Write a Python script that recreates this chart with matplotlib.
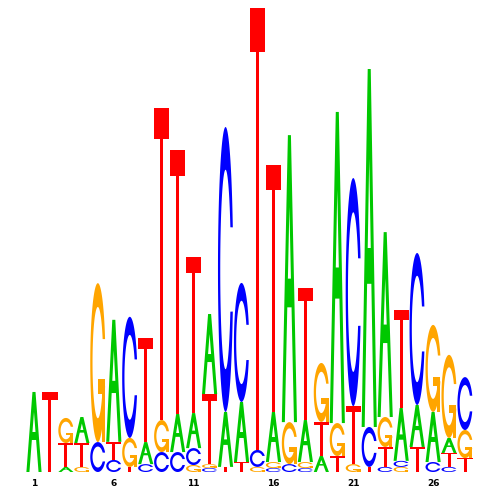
import numpy as np
import matplotlib
matplotlib.use("Agg")
import matplotlib.pyplot as plt
from matplotlib.patches import Polygon

# ---- data (information content in bits, per position) ----
positions = list(range(1, 29))
A = [0.345, 0.000, 0.022, 0.112, 0.000, 0.526, 0.000, 0.095, 0.000, 0.164,
     0.151, 0.345, 0.237, 0.259, 0.000, 0.216, 1.237, 0.181, 0.069, 1.341,
     0.000, 1.543, 0.797, 0.228, 0.181, 0.216, 0.065, 0.000]
C = [0.000, 0.000, 0.000, 0.000, 0.129, 0.052, 0.522, 0.034, 0.086, 0.086,
     0.073, 0.017, 1.228, 0.513, 0.073, 0.017, 0.034, 0.017, 0.000, 0.000,
     0.983, 0.172, 0.022, 0.026, 0.655, 0.043, 0.022, 0.228]
G = [0.000, 0.000, 0.108, 0.022, 0.685, 0.000, 0.125, 0.000, 0.138, 0.000,
     0.030, 0.017, 0.000, 0.000, 0.022, 0.026, 0.181, 0.026, 0.254, 0.142,
     0.034, 0.000, 0.129, 0.022, 0.000, 0.375, 0.358, 0.121]
T = [0.000, 0.345, 0.103, 0.103, 0.000, 0.078, 0.022, 0.448, 1.345, 1.138,
     0.672, 0.302, 0.022, 0.043, 1.905, 1.065, 0.000, 0.569, 0.147, 0.069,
     0.250, 0.022, 0.086, 0.422, 0.108, 0.000, 0.060, 0.060]
tick_positions = [1, 6, 11, 16, 21, 26]

colors = {"A": "#00C800", "C": "#0000FF", "G": "#FFA500", "T": "#FF0000"}

# ---- letter shapes in a unit box ----
def shape_A():
    outer = [(0, 0), (0.2, 0), (0.36, 0.4), (0.64, 0.4), (0.8, 0), (1, 0),
             (0.6, 1), (0.4, 1)]
    hole = [(0.4, 0.5), (0.5, 0.75), (0.6, 0.5)]
    return [outer], [hole]

def c_ring():
    phi_o = np.linspace(0.3, 2 * np.pi - 0.3, 120)
    phi_i = np.linspace(2 * np.pi - 0.437, 0.437, 120)
    xo = 0.5 + 0.5 * np.cos(phi_o)
    yo = 0.5 + 0.5 * np.sin(phi_o)
    xi = 0.5 + 0.35 * np.cos(phi_i)
    yi = 0.5 + 0.35 * np.sin(phi_i)
    return list(zip(np.r_[xo, xi], np.r_[yo, yi]))

def shape_C():
    return [c_ring()], []

def shape_G():
    bar = [(0.5, 0.3), (0.778, 0.3), (0.778, 0.0), (0.978, 0.0),
           (0.978, 0.4), (0.5, 0.4)]
    return [c_ring(), bar], []

def shape_T():
    return [[(0, 1), (0, 0.9), (0.4, 0.9), (0.4, 0), (0.6, 0), (0.6, 0.9),
             (1, 0.9), (1, 1)]], []

shapes = {"A": shape_A(), "C": shape_C(), "G": shape_G(), "T": shape_T()}

fig = plt.figure(figsize=(5, 5), dpi=100)
ax = fig.add_axes([0.052, 0.056, 0.894, 0.928])
ax.set_xlim(0.5, 28.5)
ax.set_ylim(0, 2)

width = 0.95

def draw_letter(letter, xc, y0, h):
    polys, holes = shapes[letter]
    x0 = xc - width / 2
    for poly in polys:
        pts = [(x0 + width * u, y0 + h * v) for u, v in poly]
        ax.add_patch(Polygon(pts, closed=True, facecolor=colors[letter],
                             edgecolor="none", antialiased=True))
    for hole in holes:
        pts = [(x0 + width * u, y0 + h * v) for u, v in hole]
        ax.add_patch(Polygon(pts, closed=True, facecolor="white",
                             edgecolor="none", antialiased=True))

for i, p in enumerate(positions):
    vals = [("A", A[i]), ("C", C[i]), ("G", G[i]), ("T", T[i])]
    vals = sorted([v for v in vals if v[1] > 0], key=lambda t: t[1])
    y = 0.0
    for letter, h in vals:
        draw_letter(letter, p, y, h)
        y += h

ax.set_xticks(tick_positions)
ax.set_xticklabels([str(t) for t in tick_positions], fontsize=6.5,
                   fontweight="bold", family="DejaVu Sans")
ax.tick_params(axis="x", length=0, pad=5)
ax.set_yticks([])
for s in ax.spines.values():
    s.set_visible(False)

fig.savefig("out.png", dpi=100, facecolor="white")
